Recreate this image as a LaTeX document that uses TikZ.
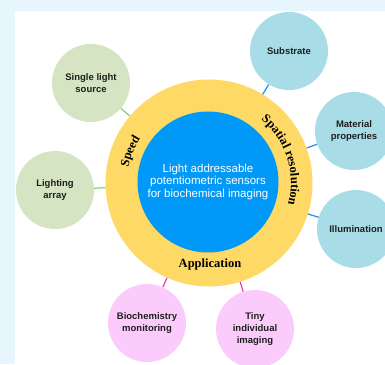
\documentclass[tikz,border=0pt]{standalone}
\usepackage{fontspec}
\setmainfont{Liberation Sans}
\newfontfamily\ringfont{Liberation Serif}
\usetikzlibrary{calc,decorations.text}

\definecolor{pagebg}{HTML}{E7F5FD}
\definecolor{ringyellow}{HTML}{FED966}
\definecolor{coreblue}{HTML}{0099F7}
\definecolor{leafgreen}{HTML}{D5E4C3}
\definecolor{linkgreen}{HTML}{7ED36A}
\definecolor{leafblue}{HTML}{A8DDE8}
\definecolor{linkblue}{HTML}{1E90E8}
\definecolor{leafpink}{HTML}{FBCCFB}
\definecolor{linkpink}{HTML}{E83CC0}
\definecolor{leaftext}{HTML}{1E1E1E}

\tikzset{
  leaf/.style={circle, inner sep=0pt, minimum size=78pt, align=center,
    text=leaftext, font=\fontsize{9.5}{12}\selectfont\bfseries},
  greenleaf/.style={leaf, fill=leafgreen},
  blueleaf/.style={leaf, fill=leafblue},
  pinkleaf/.style={leaf, fill=leafpink},
  link/.style={line width=1.2pt},
  ringlabel/.style={font=\fontsize{12.5}{14}\selectfont\ringfont\bfseries},
}

\begin{document}
\begin{tikzpicture}[x=1pt,y=1pt]
  % page background and white panel
  \fill[pagebg] (0,0) rectangle (385,364);
  \fill[white] (15,0) rectangle (385,353);
  \useasboundingbox (0,0) rectangle (385,364);

  % central ring and core
  \node[circle, fill=ringyellow, inner sep=0pt, minimum size=207pt] (ring) at (209,181) {};
  \node[circle, fill=coreblue, inner sep=0pt, minimum size=141pt, align=center,
        text=white, font=\fontsize{11.5}{12.8}\selectfont] (core) at (208,182)
       {Light addressable\\potentiometric sensors\\for biochemical imaging};

  % outer topics
  \node[greenleaf] (single)    at (91,281)  {Single light\\source};
  \node[greenleaf] (lighting)  at (55,174)  {Lighting\\array};
  \node[blueleaf]  (substrate) at (289,313) {Substrate};
  \node[blueleaf]  (material)  at (354,233) {Material\\properties};
  \node[blueleaf]  (illum)     at (356,135) {Illumination};
  \node[pinkleaf]  (biochem)   at (147,41)  {Biochemistry\\monitoring};
  \node[pinkleaf]  (tiny)      at (255,35)  {Tiny\\individual\\imaging};

  % connectors
  \draw[link, linkgreen] (single) -- (ring);
  \draw[link, linkgreen] (lighting) -- (ring);
  \draw[link, linkblue]  (substrate) -- (ring);
  \draw[link, linkblue]  (material) -- (ring);
  \draw[link, linkblue]  (illum) -- (ring);
  \draw[link, linkpink]  (biochem) -- (ring);
  \draw[link, linkpink]  (tiny) -- (ring);

  % ring labels
  \path[decorate, decoration={text along path, text align=center,
        text={|\fontsize{12.5}{14}\selectfont\ringfont\bfseries|Speed}}]
    ($(ring.center)+(178:82)$) arc[start angle=178, end angle=138, radius=82];
  \path[decorate, decoration={text along path, text align=center,
        text={|\fontsize{12.5}{14}\selectfont\ringfont\bfseries|Spatial resolution}}]
    ($(ring.center)+(57.6:82)$) arc[start angle=57.6, end angle=-22.4, radius=82];
  \node[ringlabel, anchor=base] (application) at (210,96) {Application};
\end{tikzpicture}
\end{document}
